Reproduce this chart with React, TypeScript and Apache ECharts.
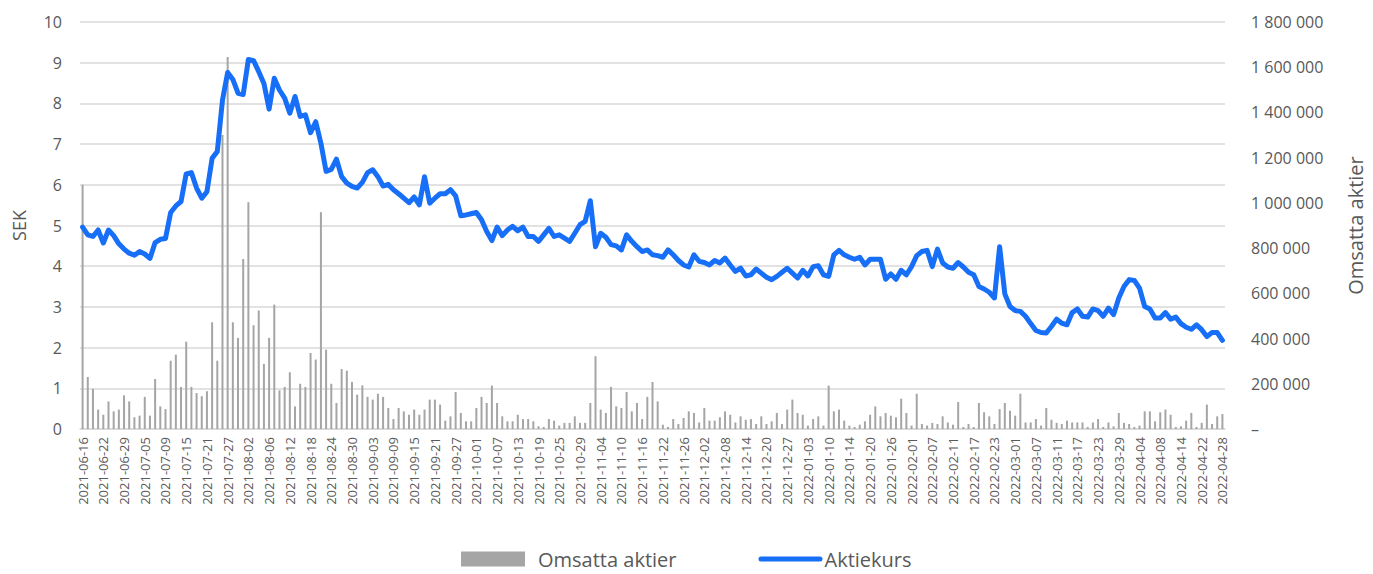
import React, { useEffect, useRef } from "react";
import * as echarts from "echarts";

// Trading days per month (Stockholm calendar)
const tradingDays: [string, number[]][] = [
  ["2021-06", [16, 17, 18, 21, 22, 23, 24, 28, 29, 30]],
  ["2021-07", [1, 2, 5, 6, 7, 8, 9, 12, 13, 14, 15, 16, 19, 20, 21, 22, 23, 26, 27, 28, 29, 30]],
  ["2021-08", [2, 3, 4, 5, 6, 9, 10, 11, 12, 13, 16, 17, 18, 19, 20, 23, 24, 25, 26, 27, 30, 31]],
  ["2021-09", [1, 2, 3, 6, 7, 8, 9, 10, 13, 14, 15, 16, 17, 20, 21, 22, 23, 24, 27, 28, 29, 30]],
  ["2021-10", [1, 4, 5, 6, 7, 8, 11, 12, 13, 14, 15, 18, 19, 20, 21, 22, 25, 26, 27, 28, 29]],
  ["2021-11", [1, 2, 3, 4, 5, 8, 9, 10, 11, 12, 15, 16, 17, 18, 19, 22, 23, 24, 25, 26, 29, 30]],
  ["2021-12", [1, 2, 3, 6, 7, 8, 9, 10, 13, 14, 15, 16, 17, 20, 21, 22, 23, 27, 28, 29, 30]],
  ["2022-01", [3, 4, 5, 7, 10, 11, 12, 13, 14, 17, 18, 19, 20, 21, 24, 25, 26, 27, 28, 31]],
  ["2022-02", [1, 2, 3, 4, 7, 8, 9, 10, 11, 14, 15, 16, 17, 18, 21, 22, 23, 24, 25, 28]],
  ["2022-03", [1, 2, 3, 4, 7, 8, 9, 10, 11, 14, 15, 16, 17, 18, 21, 22, 23, 24, 25, 28, 29, 30, 31]],
  ["2022-04", [1, 4, 5, 6, 7, 8, 11, 12, 13, 14, 19, 20, 21, 22, 25, 26, 27, 28]],
];

const categories: string[] = tradingDays.flatMap(([ym, days]) =>
  days.map((d) => `${ym}-${String(d).padStart(2, "0")}`)
);

// Share price (SEK)
const aktiekurs: number[] = [
  4.96, 4.77, 4.73, 4.89, 4.57, 4.89, 4.75, 4.55, 4.42, 4.32, 4.27, 4.36, 4.30, 4.19, 4.58, 4.66, 4.68, 5.32, 5.48, 5.59,
  6.27, 6.30, 5.92, 5.67, 5.83, 6.65, 6.82, 8.08, 8.76, 8.59, 8.25, 8.22, 9.08, 9.05, 8.78, 8.49, 7.86, 8.62,
  8.33, 8.13, 7.76, 8.17, 7.68, 7.72, 7.28, 7.55, 7.02, 6.33, 6.38, 6.63, 6.20, 6.04, 5.96, 5.92, 6.06, 6.30, 6.37, 6.20,
  5.97, 6.01, 5.88, 5.78, 5.67, 5.56, 5.70, 5.51, 6.20, 5.55, 5.67, 5.78, 5.78, 5.88, 5.73, 5.24, 5.26,
  5.29, 5.32, 5.14, 4.85, 4.63, 4.96, 4.75, 4.89, 4.98, 4.87, 4.96, 4.73, 4.73, 4.61, 4.77, 4.93, 4.73, 4.77, 4.69, 4.61,
  4.81, 5.02, 5.10, 5.61, 4.48, 4.81, 4.71, 4.53, 4.50, 4.40, 4.77, 4.61, 4.48, 4.36, 4.40, 4.28, 4.26, 4.22,
  4.40, 4.28, 4.14, 4.03, 3.98, 4.28, 4.12, 4.09, 4.03, 4.14, 4.08, 4.20, 4.03, 3.87, 3.95, 3.76, 3.79, 3.93, 3.83, 3.73,
  3.67, 3.75, 3.85, 3.95, 3.83, 3.71, 3.90, 3.76, 3.99, 4.01, 3.79, 3.75, 4.28, 4.39, 4.28, 4.22, 4.17,
  4.22, 4.03, 4.17, 4.17, 4.17, 3.68, 3.81, 3.68, 3.90, 3.79, 3.99, 4.26, 4.36, 4.39, 3.99, 4.42, 4.08, 3.98, 3.95, 4.09,
  3.98, 3.85, 3.79, 3.50, 3.44, 3.36, 3.22, 4.48, 3.32, 3.01, 2.91, 2.89, 2.77, 2.59, 2.42, 2.37, 2.36, 2.52,
  2.70, 2.60, 2.56, 2.86, 2.95, 2.77, 2.75, 2.95, 2.91, 2.77, 2.97, 2.81, 3.22, 3.50, 3.67, 3.65, 3.46, 3.01, 2.95, 2.73,
  2.73, 2.86, 2.70, 2.75, 2.59, 2.50, 2.45, 2.56, 2.44, 2.27, 2.37, 2.37, 2.18,
];

// Traded shares (thousands)
const omsattaTusen: number[] = [
  1080, 230, 178, 86, 63, 122, 78, 86, 149, 122, 52, 59, 142, 59, 221, 100, 88, 302, 329, 186,
  386, 186, 159, 145, 167, 472, 302, 1300, 1645, 472, 403, 752, 1003, 459, 524, 288, 403, 550,
  171, 186, 251, 100, 200, 186, 336, 307, 959, 351, 200, 115, 265, 258, 208, 152, 193, 142, 130, 156,
  142, 93, 44, 93, 78, 63, 86, 63, 86, 130, 130, 108, 37, 56, 164, 71, 34,
  34, 93, 142, 115, 192, 115, 56, 34, 34, 63, 44, 44, 34, 12, 9, 44, 37, 15, 27, 27,
  56, 27, 27, 115, 322, 86, 71, 186, 100, 93, 164, 78, 115, 44, 142, 208, 122, 19,
  9, 44, 22, 49, 78, 71, 29, 93, 37, 37, 52, 78, 63, 29, 56, 41, 44, 22, 56, 22,
  34, 71, 22, 86, 130, 71, 63, 15, 44, 56, 15, 192, 78, 86, 37, 15, 9,
  19, 34, 63, 100, 56, 71, 59, 52, 134, 71, 15, 156, 22, 15, 27, 22, 56, 29, 19, 119,
  9, 22, 9, 115, 74, 56, 22, 88, 115, 81, 59, 156, 29, 29, 44, 15, 93, 41,
  27, 22, 37, 29, 29, 29, 9, 29, 44, 9, 29, 12, 71, 27, 22, 9, 15, 78, 78, 34,
  74, 86, 63, 9, 12, 37, 71, 9, 27, 108, 22, 56, 66,
];

const omsattaAktier: number[] = omsattaTusen.map((v) => v * 1000);

const FONT = "'Open Sans', sans-serif";
const TXT = "#595959";
const BLUE = "#166ff6";
const GREY = "#a5a5a5";

function fmtSpace(v: number): string {
  if (v === 0) return "–";
  return String(Math.round(v)).replace(/\B(?=(\d{3})+(?!\d))/g, " ");
}

export default function App() {
  const ref = useRef<HTMLDivElement>(null);
  useEffect(() => {
    if (!ref.current) return;
    const chart = echarts.init(ref.current, undefined, { renderer: "svg" });
    chart.setOption({
      animation: false,
      backgroundColor: "#ffffff",
      textStyle: { fontFamily: FONT },
      grid: { left: 80, right: 145, top: 22, bottom: 145, containLabel: false },
      legend: {
        top: 543,
        left: 456,
        itemWidth: 64,
        itemHeight: 15,
        itemGap: 82,
        textStyle: { fontFamily: FONT, fontSize: 20, lineHeight: 22, color: TXT },
        data: [
          { name: "Omsatta aktier", icon: "rect", textStyle: { padding: [0, 0, 0, 8] } },
          {
            name: "Aktiekurs",
            icon: "path://M2.5,0 L61.5,0 A2.5,2.5 0 0 1 61.5,5 L2.5,5 A2.5,2.5 0 0 1 2.5,0 Z",
            textStyle: { padding: [0, 0, 0, -3] },
          },
        ],
      },
      xAxis: {
        type: "category",
        data: categories,
        boundaryGap: true,
        axisLine: { show: true, lineStyle: { color: "#d9d9d9", width: 1.5 } },
        axisTick: { show: false },
        axisLabel: {
          interval: 3,
          rotate: 90,
          fontSize: 13,
          color: TXT,
          margin: 8,
          fontFamily: FONT,
        },
      },
      yAxis: [
        {
          type: "value",
          min: 0,
          max: 10,
          interval: 1,
          name: "SEK",
          nameLocation: "middle",
          nameGap: 52,
          nameRotate: 90,
          nameTextStyle: { fontSize: 18, color: TXT, fontFamily: FONT },
          axisLine: { show: false },
          axisTick: { show: false },
          axisLabel: { fontSize: 16, color: TXT, margin: 18, fontFamily: FONT },
          splitLine: { show: true, lineStyle: { color: "#d9d9d9", width: 1.5 } },
        },
        {
          type: "value",
          min: 0,
          max: 1800000,
          interval: 200000,
          name: "Omsatta aktier",
          nameLocation: "middle",
          nameGap: 120,
          nameRotate: 90,
          nameTextStyle: { fontSize: 20, color: TXT, fontFamily: FONT },
          axisLine: { show: false },
          axisTick: { show: false },
          splitLine: { show: false },
          axisLabel: {
            fontSize: 16,
            color: TXT,
            margin: 26,
            fontFamily: FONT,
            formatter: (v: number) => fmtSpace(v),
          },
        },
      ],
      series: [
        {
          name: "Omsatta aktier",
          type: "bar",
          yAxisIndex: 1,
          data: omsattaAktier,
          barWidth: 2,
          itemStyle: { color: GREY },
          z: 1,
        },
        {
          name: "Aktiekurs",
          type: "line",
          yAxisIndex: 0,
          data: aktiekurs,
          symbol: "none",
          showSymbol: false,
          lineStyle: { color: BLUE, width: 5, cap: "round", join: "round" },
          itemStyle: { color: BLUE },
          z: 3,
        },
      ],
    });
    return () => chart.dispose();
  }, []);
  return (
    <div
      ref={ref}
      style={{ position: "fixed", left: 0, top: 0, width: 1373, height: 574, background: "#fff" }}
    />
  );
}
